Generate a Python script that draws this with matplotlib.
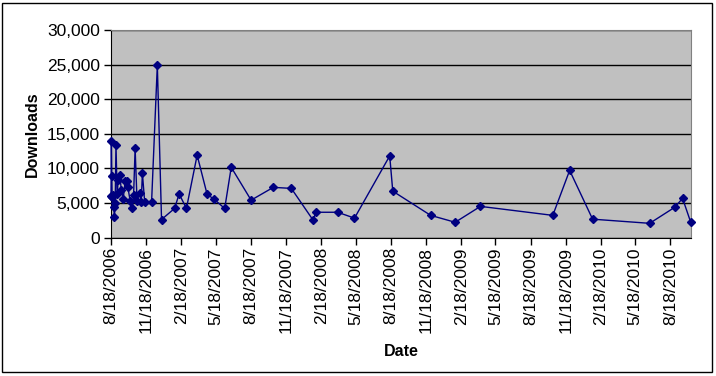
import datetime as dt
import pandas as pd
import matplotlib
matplotlib.use('Agg')
import matplotlib.pyplot as plt
from matplotlib.ticker import FuncFormatter
from matplotlib.patches import Rectangle

plt.rcParams['font.family'] = ['Liberation Sans', 'DejaVu Sans']

# Download counts
dates = [
    '2006-08-18', '2006-08-19', '2006-08-20', '2006-08-21', '2006-08-23',
    '2006-08-25', '2006-08-27', '2006-08-29', '2006-08-31', '2006-09-03',
    '2006-09-06', '2006-09-10', '2006-09-14', '2006-09-19', '2006-09-24',
    '2006-09-28', '2006-10-01', '2006-10-07', '2006-10-13', '2006-10-16',
    '2006-10-20', '2006-10-25', '2006-11-01', '2006-11-05', '2006-11-08',
    '2006-11-14', '2006-12-02', '2006-12-17', '2006-12-28', '2007-01-31',
    '2007-02-12', '2007-03-03', '2007-03-31', '2007-04-26', '2007-05-15',
    '2007-06-11', '2007-06-28', '2007-08-19', '2007-10-16', '2007-12-02',
    '2008-01-28', '2008-02-04', '2008-04-01', '2008-05-15', '2008-08-15',
    '2008-08-23', '2008-11-30', '2009-02-02', '2009-04-09', '2009-10-15',
    '2009-11-28', '2010-01-27', '2010-06-25', '2010-08-29', '2010-09-19',
    '2010-10-10',
]
downloads = [
    6000, 14000, 8900, 5800, 6200,
    4400, 3000, 5000, 13400, 6300,
    8300, 9100, 6800, 5600, 8200,
    8200, 7300, 5300, 4300, 6100,
    12900, 5300, 6400, 5200, 9300,
    5100, 5100, 24900, 2600, 4200,
    6300, 4200, 11900, 6250, 5500,
    4200, 10150, 5400, 7250, 7100,
    2500, 3650, 3650, 2800, 11800,
    6700, 3200, 2200, 4500, 3200,
    9700, 2650, 2050, 4350, 5650,
    2250,
]

x = pd.to_datetime(dates)

fig = plt.figure(figsize=(7.16, 3.76), dpi=100)
ax = fig.add_axes([111 / 716, 1 - 237.5 / 376, 580 / 716, 207.5 / 376])
ax.set_facecolor('#C0C0C0')

ax.plot(x, downloads, color='#000080', linewidth=1, marker='D', markersize=4.5,
        markerfacecolor='#000080', markeredgecolor='#000080', zorder=3,
        clip_on=False)

ax.set_ylim(0, 30000)
ax.set_yticks(range(0, 30001, 5000))
ax.yaxis.set_major_formatter(FuncFormatter(lambda v, p: f'{int(v):,}'))
ax.grid(axis='y', color='black', linewidth=1)
ax.set_axisbelow(True)

ticks = pd.date_range('2006-08-18', periods=17, freq=pd.DateOffset(months=3))
ax.set_xlim(dt.date(2006, 8, 18), dt.date(2010, 10, 11))
ax.set_xticks(ticks)
ax.set_xticklabels([f'{d.month}/{d.day}/{d.year}' for d in ticks], rotation=90)

ax.tick_params(axis='both', labelsize=12.5, colors='black', length=5, width=1,
               direction='out')
ax.tick_params(axis='x', pad=2)
ax.tick_params(axis='y', pad=3)
for side in ['top', 'right']:
    ax.spines[side].set_color('#808080')
for side in ['left', 'bottom']:
    ax.spines[side].set_color('black')

ax.set_xlabel('Date', fontsize=11.5, fontweight='bold', labelpad=8)
ax.set_ylabel('Downloads', fontsize=11.5, fontweight='bold', labelpad=5)

# outer chart border
fig.patches.append(Rectangle((2 / 716, 4 / 376), 710 / 716, 369 / 376,
                             transform=fig.transFigure, fill=False,
                             edgecolor='black', linewidth=1))

fig.savefig('out.png', dpi=100)
